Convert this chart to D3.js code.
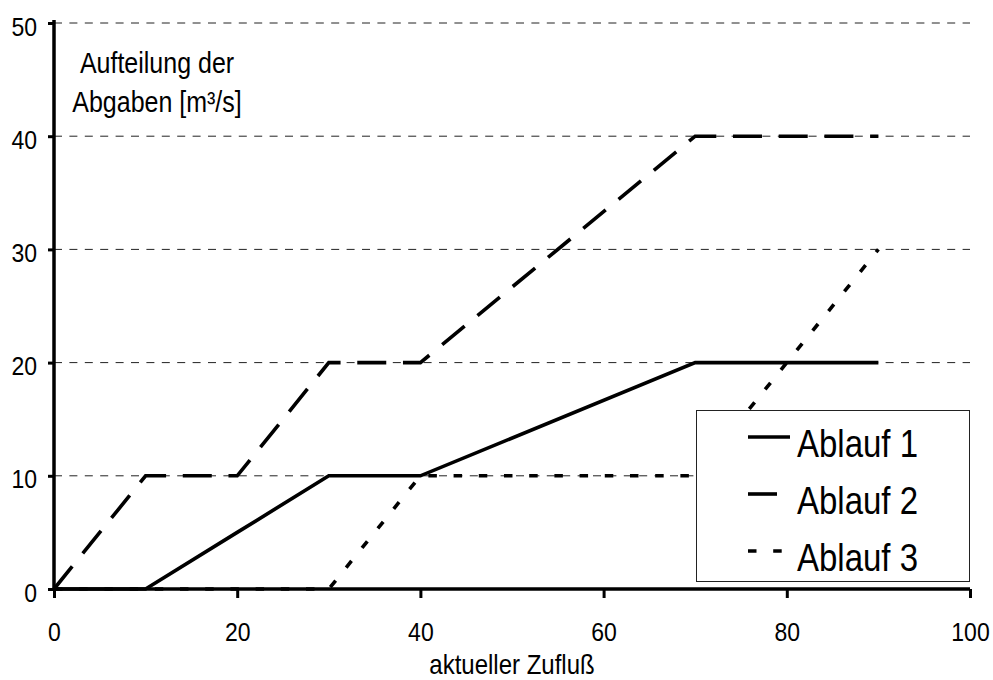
<!DOCTYPE html>
<html><head><meta charset="utf-8">
<script src="https://cdn.jsdelivr.net/npm/d3@7"></script>
<style>body{margin:0;background:#fff}svg{display:block}text{font-family:"Liberation Sans",Arial,sans-serif;fill:#000}</style>
</head><body><svg id="c" width="993" height="680"></svg>
<script>
const xValues = [0, 10, 20, 30, 40, 70, 90];
const ablauf1 = [0, 0, 5, 10, 10, 20, 20];
const ablauf2 = [0, 10, 10, 20, 20, 40, 40];
const ablauf3 = [0, 0, 0, 0, 10, 10, 30];
const seriesNames = ["Ablauf 1", "Ablauf 2", "Ablauf 3"];
const xTicks = [0, 20, 40, 60, 80, 100];
const yTicks = [0, 10, 20, 30, 40, 50];
const xTitle = "aktueller Zufluß";
const yTitleLines = ["Aufteilung der", "Abgaben [m³/s]"];

const SY = 1.16; // vertical stretch of the reference's font
const svg = d3.select("#c");
const x = d3.scaleLinear().domain([0, 100]).range([54, 970]);
const y = d3.scaleLinear().domain([0, 50]).range([589, 23]);

function label(g, tx, ty, str, size, anchor) {
  return g.append("text").attr("transform", `translate(${tx},${ty}) scale(1,${SY})`)
    .attr("text-anchor", anchor || "start").attr("font-size", size).text(str);
}

// gridlines
svg.append("g").selectAll("line").data(yTicks.filter(d => d > 0)).join("line")
  .attr("x1", x(0)).attr("x2", x(100)).attr("y1", d => y(d)).attr("y2", d => y(d))
  .attr("stroke", "#222").attr("stroke-width", 1).attr("stroke-dasharray", "8,7.4");

const styles = [
  {dash: null},
  {dash: "29,16.7"},
  {dash: "8.5,16.7"}
];
const data = [ablauf1, ablauf2, ablauf3];
const line = d3.line().x((d, i) => x(xValues[i])).y(d => y(d));

data.forEach((s, k) => {
  svg.append("path").datum(s).attr("d", line)
    .attr("fill", "none").attr("stroke", "#000").attr("stroke-width", 3.6)
    .attr("stroke-linejoin", "miter")
    .attr("stroke-dasharray", styles[k].dash);
});

// axes
const xAxis = d3.axisBottom(x).tickValues(xTicks).tickSize(9).tickFormat(d3.format("d"));
const gx = svg.append("g").attr("transform", `translate(0,${y(0)})`).call(xAxis);
gx.select(".domain").attr("d", `M${x(0)},0H${x(100)}`).attr("stroke-width", 3.5).attr("stroke", "#000");
gx.selectAll(".tick line").attr("stroke-width", 3).attr("stroke", "#000");
gx.selectAll(".tick text").each(function(d) {
  d3.select(this).attr("x", null).attr("y", null).attr("dy", null)
    .attr("transform", `translate(0,52) scale(1,${SY})`).attr("font-size", 23)
    .attr("font-family", "Liberation Sans, Arial, sans-serif").attr("fill", "#000");
});

const yAxis = d3.axisLeft(y).tickValues(yTicks).tickSize(6).tickFormat(d3.format("d"));
const gy = svg.append("g").attr("transform", `translate(${x(0)},0)`).call(yAxis);
gy.select(".domain").attr("d", `M0,${y(0) + 1.5}V${y(50) - 3}`).attr("stroke-width", 3.5).attr("stroke", "#000");
gy.selectAll(".tick line").attr("stroke-width", 3).attr("stroke", "#000");
gy.selectAll(".tick text").each(function(d) {
  d3.select(this).attr("x", null).attr("y", null).attr("dy", null)
    .attr("transform", `translate(-17,12) scale(1,${SY})`).attr("font-size", 23)
    .attr("font-family", "Liberation Sans, Arial, sans-serif").attr("fill", "#000");
});

// axis titles
label(svg, 512, 674, xTitle, 24, "middle");
yTitleLines.forEach((t, i) => label(svg, 157, 73 + i * 39, t, 25, "middle"));

// legend
const lg = svg.append("g");
lg.append("rect").attr("x", 696.5).attr("y", 410.5).attr("width", 273).attr("height", 171)
  .attr("fill", "#fff").attr("stroke", "#222").attr("stroke-width", 1);
const legendLen = [42, 29, 35];
seriesNames.forEach((n, k) => {
  const cy = 437 + k * 57;
  lg.append("line").attr("x1", 748).attr("x2", 748 + legendLen[k]).attr("y1", cy).attr("y2", cy)
    .attr("stroke", "#000").attr("stroke-width", 3.6).attr("stroke-dasharray", styles[k].dash);
  label(lg, 797, cy + 20, n, 33);
});
</script></body></html>
